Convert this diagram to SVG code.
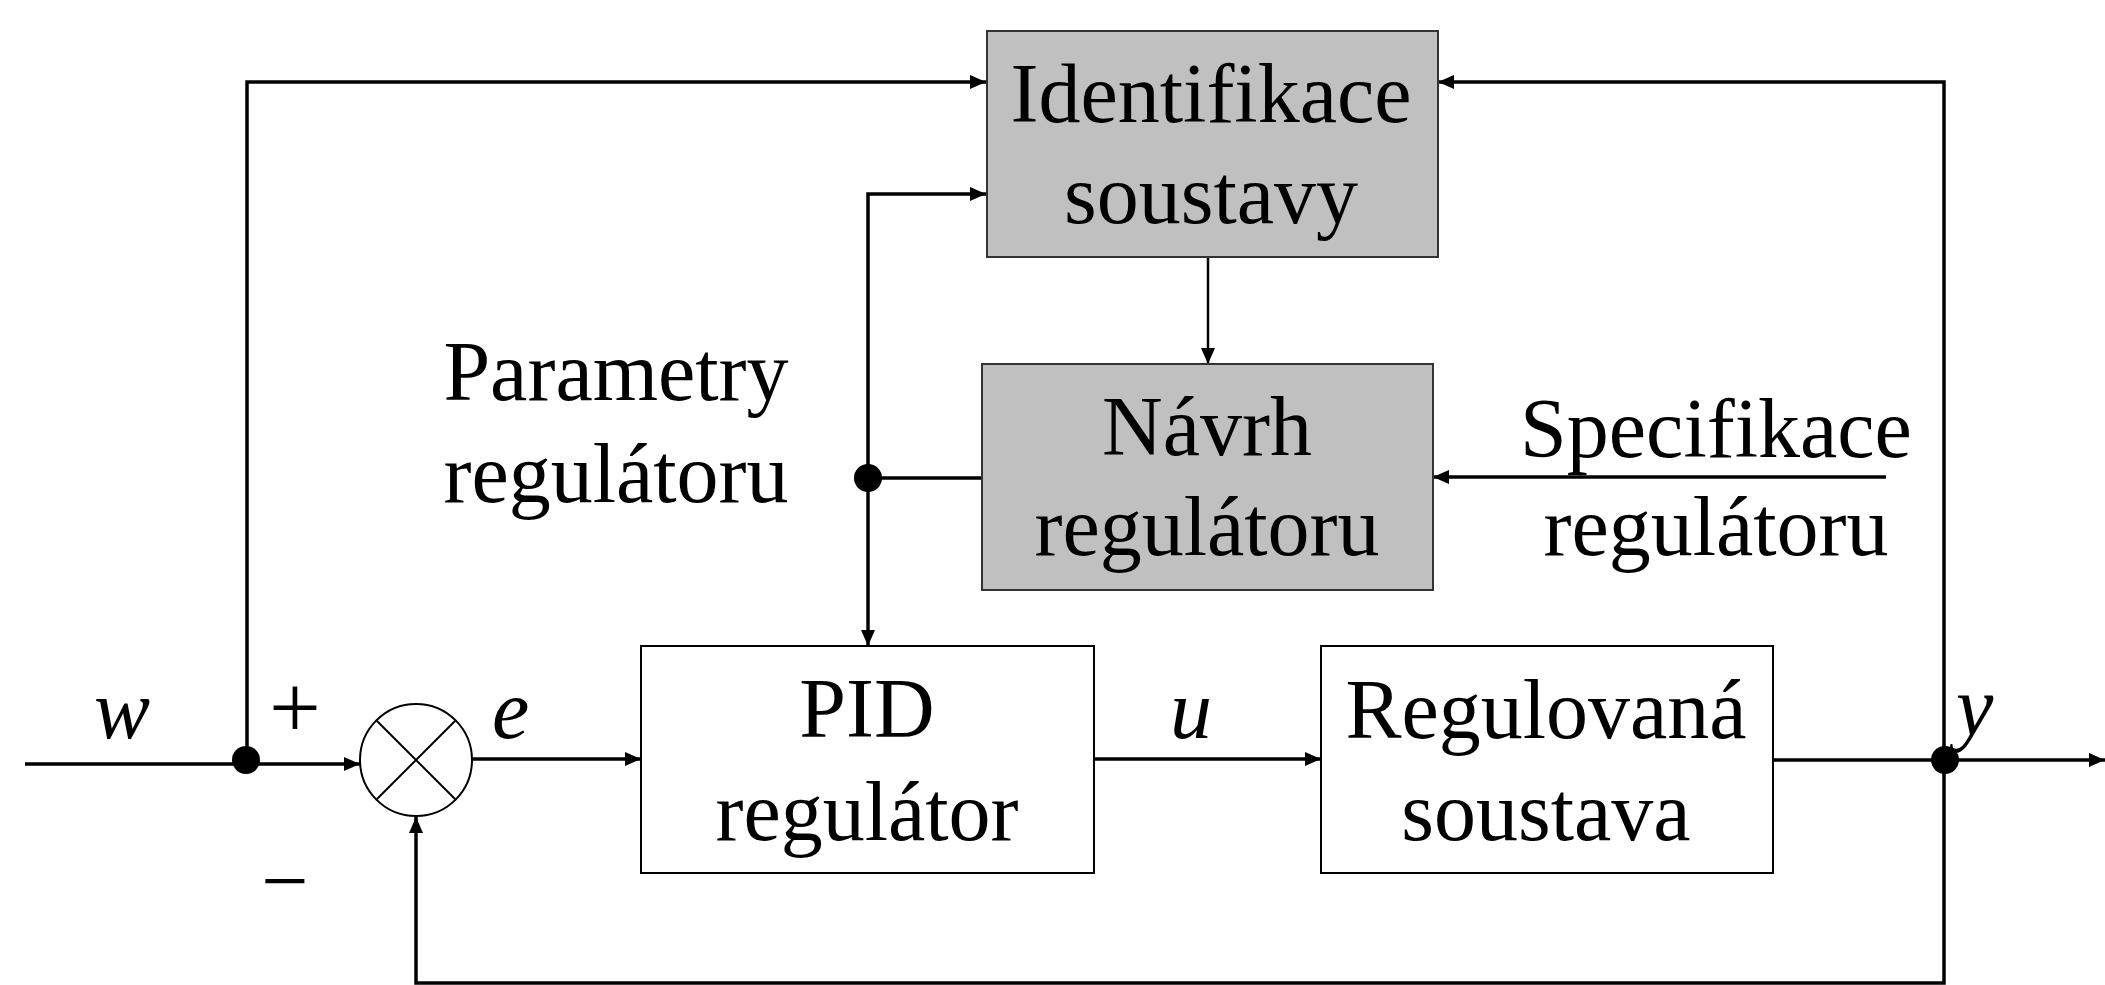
<svg xmlns="http://www.w3.org/2000/svg" width="2105" height="985" viewBox="0 0 2105 985">
<style>
.t{font-family:"Liberation Serif","Times New Roman",serif;font-size:84px;fill:#000;text-anchor:middle}
.i{font-style:italic;text-anchor:start}
.box{fill:#fff;stroke:#000;stroke-width:2}
.gbox{fill:#c0c0c0;stroke:#333;stroke-width:2}
.ln{fill:none;stroke:#000;stroke-width:3.5}
.a{marker-end:url(#arr)}
</style>
<defs>
<marker id="arr" markerUnits="userSpaceOnUse" markerWidth="16" markerHeight="16" viewBox="0 0 16 16" refX="16" refY="8" orient="auto">
<path d="M0,1 L16,8 L0,15 Z" fill="#000"/>
</marker>
</defs>
<rect width="2105" height="985" fill="#fff"/>
<g id="connectors">
<path class="ln a" d="M25,764 H360"/>
<path class="ln a" d="M247,764 V82 H986"/>
<path class="ln a" d="M472,759 H641"/>
<path class="ln a" d="M868,478 V194 H986"/>
<path class="ln a" d="M868,478 V646"/>
<path class="ln" d="M868,478 H982"/>
<path class="ln a" d="M1208,257 V364" style="stroke-width:2.5"/>
<path class="ln a" d="M1886,477 H1433"/>
<path class="ln a" d="M1094,759 H1321"/>
<path class="ln a" d="M1773,760 H2105"/>
<path class="ln a" d="M1944,760 V82 H1438"/>
<path class="ln a" d="M1944,760 V983 H416 V817"/>
<circle cx="246" cy="760" r="14" fill="#000"/>
<circle cx="868" cy="478" r="14" fill="#000"/>
<circle cx="1945" cy="760" r="14" fill="#000"/>
</g>
<g id="ident">
<rect class="gbox" x="987" y="31" width="451" height="226"/>
<text class="t" x="1211" y="122">Identifikace</text>
<text class="t" x="1211" y="223">soustavy</text>
</g>
<g id="navrh">
<rect class="gbox" x="982" y="364" width="451" height="226"/>
<text class="t" x="1207" y="455">Návrh</text>
<text class="t" x="1207" y="555">regulátoru</text>
</g>
<g id="pid">
<rect class="box" x="641" y="646" width="453" height="227"/>
<text class="t" x="867" y="737">PID</text>
<text class="t" x="867" y="840">regulátor</text>
</g>
<g id="soustava">
<rect class="box" x="1321" y="646" width="452" height="227"/>
<text class="t" x="1546" y="738">Regulovaná</text>
<text class="t" x="1546" y="840">soustava</text>
</g>
<g id="sum">
<circle cx="416" cy="760" r="56" fill="#fff" stroke="#000" stroke-width="2"/>
<path d="M376,720 L456,800 M456,720 L376,800" stroke="#000" stroke-width="2"/>
</g>
<g id="labels">
<text class="t" x="616" y="400">Parametry</text>
<text class="t" x="616" y="502">regulátoru</text>
<text class="t" x="1716" y="457">Specifikace</text>
<text class="t" x="1716" y="555">regulátoru</text>
<text class="t i" x="94" y="738">w</text>
<text class="t i" x="492" y="738">e</text>
<text class="t i" x="1170" y="738">u</text>
<text class="t i" x="1956" y="735">y</text>
<text class="t" x="295" y="738" style="font-size:92px">+</text>
<text class="t" x="285" y="909">−</text>
</g>
</svg>
